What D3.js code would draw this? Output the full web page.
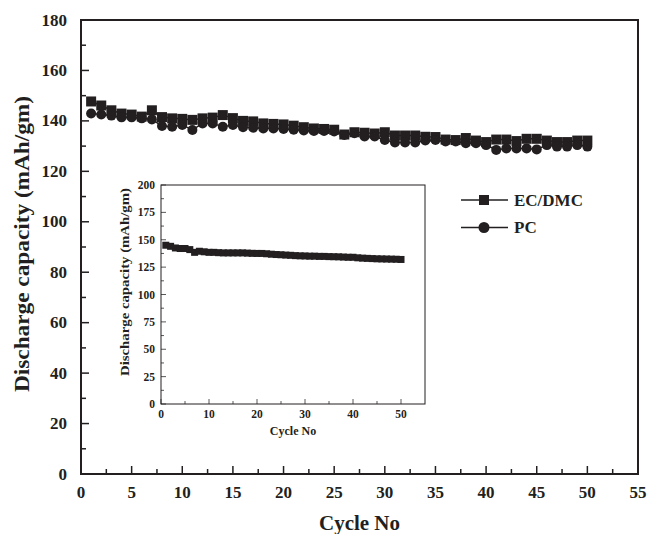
<!DOCTYPE html>
<html><head><meta charset="utf-8">
<script src="https://cdn.jsdelivr.net/npm/d3@7"></script>
<style>
body{margin:0;background:#fff;}
svg text{font-family:"Liberation Serif","Times New Roman",serif;font-weight:bold;fill:#231f20;}
</style></head>
<body><svg id="c" width="648" height="534"></svg>
<script>
const cycles = d3.range(1, 51);
const ecdmc = [147.7,146.1,144.2,142.9,142.5,141.7,144.2,141.5,141.0,140.8,140.4,141.0,141.3,142.3,141.1,140.0,139.8,139.0,138.8,138.6,138.1,137.5,137.0,136.8,136.5,134.6,135.5,135.3,135.0,135.5,134.2,134.2,134.2,133.7,133.6,132.6,132.4,133.2,132.2,131.6,132.6,132.6,132.0,132.9,132.9,132.2,131.6,131.6,132.2,132.2];
const pc = [142.9,142.5,142.1,141.4,141.4,141.0,140.6,138.0,137.7,138.4,136.4,139.0,139.0,137.7,138.4,137.5,137.3,137.0,137.0,136.8,136.5,136.2,136.0,136.0,135.8,134.4,135.1,133.8,133.8,132.4,131.4,131.4,131.4,132.2,132.4,131.8,131.8,131.1,131.1,130.4,128.5,129.1,129.1,129.1,128.7,130.4,129.8,129.8,130.4,129.8];
const insetVals = [145,144,142.5,142,142,141,138.5,139.5,139,138.5,138.5,138.2,138,138,138,138,138,137.8,137.6,137.5,137.5,137.2,136.8,136.5,136.3,136,135.8,135.5,135.3,135.2,135,135,134.8,134.8,134.6,134.5,134.4,134.2,134,134,133.5,133.2,133,132.8,132.6,132.5,132.4,132.3,132.2,132];
const xTicks = [0,5,10,15,20,25,30,35,40,45,50,55];
const yTicks = [0,20,40,60,80,100,120,140,160,180];
const insetXTicks = [0,10,20,30,40,50];
const insetYTicks = [0,25,50,75,100,125,150,175,200];
const seriesNames = ["EC/DMC","PC"];

const ink = "#231f20";
const svg = d3.select("#c");

function frame(g, x, y, majX, minX, majY, minY, fs, majLen, minLen, sw, xLabOff, yLabOff) {
  const [x0,x1] = x.range(), [y0,y1] = y.range();
  // minor ticks
  g.selectAll(null).data(minX).enter().append("line")
    .attr("x1", d=>x(d)).attr("x2", d=>x(d)).attr("y1", y0).attr("y2", y0-minLen)
    .attr("stroke", ink).attr("stroke-width", sw*0.75);
  g.selectAll(null).data(minY).enter().append("line")
    .attr("y1", d=>y(d)).attr("y2", d=>y(d)).attr("x1", x0).attr("x2", x0+minLen)
    .attr("stroke", ink).attr("stroke-width", sw*0.75);
  g.selectAll(null).data(majX).enter().append("line")
    .attr("x1", d=>x(d)).attr("x2", d=>x(d)).attr("y1", y0).attr("y2", y0-majLen)
    .attr("stroke", ink).attr("stroke-width", sw*0.75);
  g.selectAll(null).data(majY).enter().append("line")
    .attr("y1", d=>y(d)).attr("y2", d=>y(d)).attr("x1", x0).attr("x2", x0+majLen)
    .attr("stroke", ink).attr("stroke-width", sw*0.75);
  g.append("rect").attr("x", x0).attr("y", y1).attr("width", x1-x0).attr("height", y0-y1)
    .attr("fill","none").attr("stroke", ink).attr("stroke-width", sw);
  g.selectAll(null).data(majX).enter().append("text")
    .attr("x", d=>x(d)).attr("y", y0 + xLabOff).attr("text-anchor","middle")
    .attr("dominant-baseline","central").attr("font-size", fs).text(d=>d);
  g.selectAll(null).data(majY).enter().append("text")
    .attr("x", x0 - yLabOff).attr("y", d=>y(d)).attr("text-anchor","end")
    .attr("dominant-baseline","central").attr("font-size", fs).text(d=>d);
}

// Main chart
const x = d3.scaleLinear().domain([0,55]).range([81,638]);
const y = d3.scaleLinear().domain([0,180]).range([474,20]);
const main = svg.append("g");
frame(main, x, y, xTicks, d3.range(2.5,55,5), yTicks, d3.range(10,180,20), 17, 8, 5, 2, 18, 14);

main.append("text").attr("x", (x(0)+x(55))/2).attr("y", 523).attr("text-anchor","middle")
  .attr("dominant-baseline","central").attr("font-size", 21).text("Cycle No");
main.append("text").attr("transform","translate(22,244) rotate(-90)").attr("text-anchor","middle")
  .attr("dominant-baseline","central").attr("font-size", 21)
  .attr("textLength", 296).attr("lengthAdjust","spacingAndGlyphs").text("Discharge capacity (mAh/gm)");

const line = d3.line().x((d,i)=>x(cycles[i])).y(d=>y(d));
main.append("path").attr("d", line(ecdmc)).attr("fill","none").attr("stroke",ink).attr("stroke-width",1.5);
main.append("path").attr("d", line(pc)).attr("fill","none").attr("stroke",ink).attr("stroke-width",1.5);
main.selectAll(null).data(ecdmc).enter().append("rect")
  .attr("x",(d,i)=>x(cycles[i])-5).attr("y",d=>y(d)-5).attr("width",10).attr("height",10).attr("fill",ink);
main.selectAll(null).data(pc).enter().append("circle")
  .attr("cx",(d,i)=>x(cycles[i])).attr("cy",d=>y(d)).attr("r",5).attr("fill",ink);

// Legend
const leg = svg.append("g");
seriesNames.forEach((name,i)=>{
  const ly = 200 + i*27.5;
  leg.append("line").attr("x1",461).attr("x2",508).attr("y1",ly).attr("y2",ly).attr("stroke",ink).attr("stroke-width",1.5);
  if(i===0) leg.append("rect").attr("x",479).attr("y",ly-5).attr("width",10).attr("height",10).attr("fill",ink);
  else leg.append("circle").attr("cx",484).attr("cy",ly).attr("r",5.5).attr("fill",ink);
  leg.append("text").attr("x",514).attr("y",ly).attr("dominant-baseline","central").attr("font-size",17).text(name);
});

// Inset
const ix = d3.scaleLinear().domain([0,55]).range([161,425]);
const iy = d3.scaleLinear().domain([0,200]).range([404,185]);
const inset = svg.append("g");
frame(inset, ix, iy, insetXTicks, d3.range(5,55,10), insetYTicks, d3.range(12.5,200,25), 11.5, 5, 3, 1, 10, 6);
inset.append("text").attr("x", (ix(0)+ix(55))/2).attr("y", 431).attr("text-anchor","middle")
  .attr("dominant-baseline","central").attr("font-size", 12).text("Cycle No");
inset.append("text").attr("transform","translate(125,282) rotate(-90)").attr("text-anchor","middle")
  .attr("dominant-baseline","central").attr("font-size", 12.5)
  .attr("textLength", 188).attr("lengthAdjust","spacingAndGlyphs").text("Discharge capacity (mAh/gm)");
const iline = d3.line().x((d,i)=>ix(cycles[i])).y(d=>iy(d));
inset.append("path").attr("d", iline(insetVals)).attr("fill","none").attr("stroke",ink).attr("stroke-width",2);
inset.selectAll(null).data(insetVals).enter().append("rect")
  .attr("x",(d,i)=>ix(cycles[i])-3.5).attr("y",d=>iy(d)-3.5).attr("width",7).attr("height",7).attr("fill",ink);
</script></body></html>
